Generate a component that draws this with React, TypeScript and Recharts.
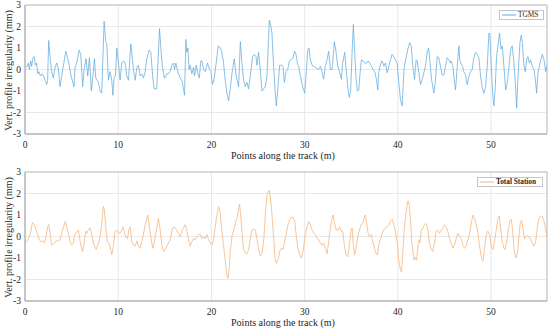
import React from 'react';
import { LineChart, Line, XAxis, YAxis, CartesianGrid, ReferenceArea, Legend } from 'recharts';

// ---- Data ----
const xTicks = [0, 10, 20, 30, 40, 50];
const yTicks = [-3, -2, -1, 0, 1, 2, 3];

const tgmsX = [
  0.18, 0.36, 0.47, 0.61, 0.72, 0.82, 1.0, 1.11, 1.25, 1.36, 1.5, 1.65, 1.83, 2.0, 2.15, 2.33, 2.43, 2.54, 2.69, 2.86,
  3.04, 3.22, 3.4, 3.58, 3.76, 4.05, 4.37, 4.65, 4.94, 5.26, 5.37, 5.55, 5.8, 5.98, 6.19, 6.34, 6.55, 6.73, 6.91, 7.12,
  7.34, 7.45, 7.59, 7.88, 8.06, 8.23, 8.49, 8.66, 8.77, 8.95, 9.13, 9.31, 9.42, 9.56, 9.7, 9.85, 10.03, 10.2, 10.38, 10.56,
  10.74, 10.92, 11.1, 11.35, 11.64, 11.82, 12.0, 12.17, 12.35, 12.53, 12.71, 12.89, 13.07, 13.32, 13.5, 13.71, 13.86, 14.14, 14.43, 14.61,
  14.75, 14.96, 15.22, 15.39, 15.57, 15.75, 15.93, 16.04, 16.18, 16.4, 16.65, 16.83, 17.0, 17.11, 17.26, 17.36, 17.47, 17.61, 17.72, 17.9,
  18.08, 18.19, 18.37, 18.55, 18.69, 18.87, 18.98, 19.15, 19.33, 19.58, 19.8, 19.94, 20.12, 20.3, 20.51, 20.73, 20.94, 21.12, 21.3, 21.48,
  21.66, 21.84, 22.02, 22.2, 22.45, 22.66, 22.92, 23.1, 23.27, 23.45, 23.63, 23.81, 23.99, 24.17, 24.42, 24.6, 24.78, 24.88, 25.06, 25.24,
  25.42, 25.6, 25.78, 25.96, 26.21, 26.39, 26.49, 26.67, 26.85, 26.96, 27.14, 27.32, 27.5, 27.68, 27.82, 28.0, 28.18, 28.36, 28.57, 28.75,
  28.93, 29.07, 29.25, 29.36, 29.54, 29.79, 30.0, 30.15, 30.33, 30.47, 30.61, 30.79, 30.97, 31.15, 31.33, 31.51, 31.69, 31.86, 32.04, 32.22,
  32.4, 32.58, 32.76, 32.94, 33.19, 33.37, 33.55, 33.73, 33.94, 34.08, 34.3, 34.48, 34.66, 34.8, 34.94, 35.09, 35.23, 35.37, 35.52, 35.66,
  35.81, 35.95, 36.09, 36.27, 36.45, 36.63, 36.81, 36.98, 37.16, 37.34, 37.52, 37.7, 37.85, 37.95, 38.13, 38.31, 38.49, 38.67, 38.85, 39.03,
  39.21, 39.38, 39.56, 39.74, 39.92, 40.1, 40.28, 40.46, 40.64, 40.71, 40.89, 41.07, 41.28, 41.43, 41.61, 41.79, 41.96, 42.07, 42.25, 42.43,
  42.61, 42.79, 42.96, 43.14, 43.29, 43.43, 43.61, 43.86, 44.04, 44.22, 44.39, 44.57, 44.75, 44.93, 45.11, 45.29, 45.47, 45.65, 45.72, 45.9,
  46.08, 46.19, 46.37, 46.55, 46.65, 46.8, 46.94, 47.08, 47.26, 47.44, 47.62, 47.8, 47.98, 48.15, 48.33, 48.51, 48.69, 48.87, 49.05, 49.23,
  49.41, 49.59, 49.77, 49.87, 50.02, 50.19, 50.3, 50.45, 50.59, 50.74, 50.91, 51.06, 51.2, 51.38, 51.56, 51.74, 51.92, 52.1, 52.27, 52.45,
  52.63, 52.74, 52.88, 53.1, 53.24, 53.35, 53.53, 53.67, 53.81, 53.96, 54.1, 54.24, 54.42, 54.6, 54.78, 54.89, 55.03, 55.25, 55.5, 55.68,
  55.86, 56.0,
];
const tgmsY = [
  0.1, 0.3, 0.0, 0.4, 0.15, 0.5, 0.6, 0.2, 0.3, -0.2, -0.1, -0.3, -0.2, -0.3, -0.5, -0.7, -0.5, 1.35, 0.6, -0.1,
  -0.4, 0.1, 0.3, 0.0, -0.8, 0.0, 0.85, 0.4, -0.3, -0.8, 0.1, 0.3, 0.9, 0.7, -0.8, 0.0, 0.5, -0.3, 0.55, -1.0,
  -0.1, 0.5, -0.4, -0.6, -1.0, -1.1, 2.25, 1.3, 1.2, -0.5, -0.1, -0.5, -1.2, -0.4, -0.3, 1.0, 0.3, -0.5, 0.3, 0.4,
  0.3, -0.3, -0.5, 1.2, 0.0, -0.5, 0.1, 0.2, -0.3, -0.2, -0.4, -0.1, 0.5, 0.9, 0.8, -0.4, -0.9, -0.9, 1.9, 0.8,
  0.1, -0.4, -0.2, -0.2, -0.1, 0.2, 0.3, 0.0, 0.3, -0.1, -0.4, -0.5, -0.9, -1.2, 1.4, 0.8, 1.0, 0.0, 0.2, -0.2,
  0.1, -0.3, 0.2, -0.2, -0.4, 0.4, 0.4, 0.0, -0.1, 0.3, 0.0, -0.1, -0.7, -0.4, 0.3, 1.1, 1.0, 0.8, 0.3, -0.5,
  -1.1, -1.45, -0.9, -0.2, 0.5, -0.3, -0.8, 1.3, 0.3, -0.5, -0.8, -0.6, -0.9, -0.3, 0.6, 0.7, 0.6, 0.2, 0.8, 0.0,
  -1.0, -0.9, -0.8, -0.3, 2.3, 2.0, 1.7, 0.15, -1.1, -1.7, -0.8, 0.2, 0.2, 0.15, -0.6, -0.1, 0.0, 0.4, 0.45, 0.55,
  0.85, 0.7, 0.25, 0.15, -0.3, -0.8, -1.1, -0.3, 0.9, 1.0, 0.45, 0.2, 0.15, 0.1, 0.05, 0.0, 0.15, -0.1, -0.45, 0.15,
  0.45, 0.85, 0.0, 0.0, 1.3, 0.8, 0.15, -0.1, -0.45, 0.3, 0.8, -0.15, -0.95, -1.3, -0.95, 0.8, 2.1, 0.8, -0.45, -1.0,
  -0.95, -0.15, 0.45, 0.4, 0.3, 0.3, 0.4, 0.3, 0.15, 0.0, -0.1, -0.45, -0.95, -0.15, 0.25, 0.4, 0.15, 0.3, -0.15, 0.15,
  0.45, 0.7, 0.6, 0.45, 0.3, -0.6, -1.4, -1.7, -0.15, 0.15, 0.55, 0.95, 1.25, 1.1, 0.15, -0.45, 0.45, 0.4, -0.15, -0.7,
  -0.45, -0.15, 0.15, 0.8, 1.0, 0.45, -0.45, -1.1, -0.45, 0.6, 0.55, 0.15, -0.25, -0.25, 0.15, 0.55, 0.45, 0.3, 0.4, 0.15,
  -0.6, -0.95, 0.15, 1.1, 0.4, 0.25, 0.15, -0.1, -0.25, -0.7, -0.3, -0.1, 0.0, 0.55, 0.8, 0.7, 0.55, -0.3, -0.85, -1.1,
  -0.8, 0.15, 1.7, 1.65, 0.15, -1.25, -1.7, -0.8, 0.6, 1.1, 1.7, 0.95, 1.1, 0.15, -0.95, -0.6, 0.15, 0.95, 1.1, 0.3,
  -0.8, -1.8, -0.45, 1.25, 1.6, 1.25, 0.15, -0.1, 0.45, 0.6, 0.3, 0.45, 0.15, 0.0, -0.6, -1.1, -0.15, 0.3, 0.7, 0.45,
  -0.1, 0.15,
];

const tsX = [
  0, 0.18, 0.47, 0.64, 0.79, 1.0, 1.18, 1.36, 1.54, 1.72, 1.9, 2.08, 2.26, 2.43, 2.54, 2.69, 2.86, 3.04, 3.22, 3.4,
  3.58, 3.76, 3.94, 4.12, 4.33, 4.48, 4.65, 4.83, 5.01, 5.19, 5.33, 5.48, 5.62, 5.73, 5.87, 6.01, 6.19, 6.34, 6.52, 6.62,
  6.8, 6.98, 7.09, 7.27, 7.45, 7.63, 7.77, 7.91, 8.06, 8.23, 8.41, 8.52, 8.7, 8.84, 8.99, 9.13, 9.31, 9.49, 9.67, 9.85,
  10.03, 10.2, 10.38, 10.49, 10.63, 10.81, 10.99, 11.13, 11.28, 11.46, 11.64, 11.82, 12.0, 12.17, 12.35, 12.53, 12.71, 12.89, 13.07, 13.18,
  13.35, 13.53, 13.71, 13.86, 14.04, 14.21, 14.32, 14.5, 14.68, 14.86, 15.04, 15.22, 15.39, 15.57, 15.75, 15.93, 16.11, 16.29, 16.47, 16.65,
  16.83, 17.0, 17.18, 17.36, 17.54, 17.72, 17.9, 18.08, 18.26, 18.44, 18.62, 18.8, 18.98, 19.15, 19.33, 19.51, 19.69, 19.87, 20.05, 20.23,
  20.41, 20.59, 20.77, 20.94, 21.12, 21.3, 21.48, 21.66, 21.77, 21.91, 22.02, 22.2, 22.38, 22.56, 22.74, 22.92, 23.02, 23.17, 23.31, 23.45,
  23.63, 23.81, 23.99, 24.17, 24.35, 24.53, 24.71, 24.88, 25.06, 25.24, 25.42, 25.6, 25.78, 25.96, 26.21, 26.39, 26.57, 26.71, 26.85, 26.96,
  27.14, 27.32, 27.5, 27.68, 27.85, 28.03, 28.21, 28.46, 28.75, 28.93, 29.11, 29.29, 29.47, 29.65, 29.83, 30.0, 30.25, 30.43, 30.61, 30.79,
  30.97, 31.15, 31.33, 31.51, 31.69, 31.86, 32.04, 32.22, 32.4, 32.58, 32.76, 32.94, 33.05, 33.22, 33.4, 33.58, 33.73, 33.91, 34.08, 34.26,
  34.44, 34.62, 34.8, 34.98, 35.09, 35.23, 35.37, 35.52, 35.7, 35.88, 36.05, 36.23, 36.38, 36.52, 36.66, 36.81, 36.95, 37.13, 37.31, 37.49,
  37.67, 37.81, 37.95, 38.13, 38.31, 38.49, 38.67, 38.85, 39.03, 39.21, 39.38, 39.56, 39.74, 39.92, 40.1, 40.28, 40.39, 40.5, 40.65, 40.75,
  40.89, 41.07, 41.21, 41.35, 41.5, 41.64, 41.75, 41.89, 42.0, 42.14, 42.29, 42.36, 42.5, 42.68, 42.86, 43.04, 43.22, 43.39, 43.57, 43.75,
  43.93, 44.11, 44.29, 44.47, 44.65, 44.83, 45.01, 45.18, 45.36, 45.54, 45.72, 45.9, 46.08, 46.26, 46.44, 46.62, 46.8, 46.98, 47.15, 47.33,
  47.51, 47.69, 47.87, 48.05, 48.23, 48.41, 48.59, 48.77, 48.95, 49.13, 49.3, 49.48, 49.66, 49.84, 50.02, 50.19, 50.37, 50.55, 50.73, 50.88,
  51.02, 51.2, 51.38, 51.52, 51.67, 51.85, 52.02, 52.17, 52.31, 52.45, 52.63, 52.74, 52.88, 53.03, 53.17, 53.31, 53.46, 53.6, 53.74, 53.88,
  54.06, 54.24, 54.42, 54.6, 54.78, 54.96, 55.14, 55.32, 55.5, 55.68, 55.86, 56.0,
];
const tsY = [
  -0.3, -0.25, 0.0, 0.25, 0.65, 0.55, 0.3, 0.1, -0.15, -0.25, -0.2, -0.3, 0.0, 0.45, 0.55, 0.15, -0.4, -0.35, -0.25, -0.2,
  -0.2, -0.15, 0.15, 0.45, 0.7, 0.45, 0.15, -0.25, -0.4, -0.3, 0.1, 0.15, 0.25, 0.3, -0.1, -0.45, -0.7, -0.3, 0.25, 0.15,
  0.3, 0.4, 0.25, -0.15, -0.45, -0.6, -0.45, -0.3, 0.0, 0.55, 1.4, 1.25, 0.25, -0.25, -0.3, -0.45, -0.85, -0.4, 0.25, 0.3,
  0.15, 0.15, 0.3, 0.45, 0.25, 0.0, -0.1, 0.3, 0.45, -0.25, -0.4, -0.45, -0.2, -0.45, -0.55, -0.25, 0.1, 0.55, 0.85, 1.0,
  0.45, -0.1, -0.55, -0.3, 0.15, 0.6, 0.85, 0.3, -0.4, -0.7, -0.6, -0.45, -0.3, -0.15, 0.25, 0.45, 0.4, 0.25, 0.15, 0.0,
  0.25, 0.4, 0.55, 0.3, -0.15, -0.45, -0.25, -0.1, -0.15, 0.0, 0.1, 0.1, -0.1, 0.0, -0.1, 0.1, -0.15, -0.3, -0.4, -0.15,
  0.45, 1.0, 1.4, 1.1, 0.25, -0.4, -1.15, -1.8, -1.95, -1.5, -0.7, 0.0, 0.25, 0.6, 0.85, 1.3, 1.5, 0.85, 0.0, -0.6,
  -0.75, -0.8, -0.6, -0.1, 0.3, 0.35, 0.3, -0.1, -0.6, -0.9, -0.8, -0.25, 1.0, 1.95, 2.15, 1.6, 0.6, -0.25, -1.1, -1.25,
  -1.1, -0.7, -0.55, -0.6, -0.25, 0.15, 0.55, 0.85, 0.9, 0.7, 0.0, -0.6, -0.85, -1.0, -0.7, -0.1, 0.45, 0.7, 0.55, 0.3,
  0.15, 0.1, -0.1, -0.15, -0.3, -0.4, -0.3, -0.55, -0.8, -0.25, 0.45, 0.85, 1.0, 0.6, 0.3, 0.3, 0.45, 0.25, 0.25, -0.4,
  -0.85, -0.95, -0.4, 0.3, 0.4, -0.4, -0.85, -0.55, 0.0, 0.3, 0.55, 0.6, 0.85, 1.0, 0.6, 0.15, 0.0, 0.1, -0.25, -0.55,
  -0.8, -0.85, -0.4, -0.15, 0.15, 0.3, 0.4, 0.45, 0.55, 0.7, 0.8, 0.55, 0.25, -0.25, -1.1, -1.55, -1.65, -1.0, 0.1, 0.6,
  1.15, 1.65, 1.5, 0.8, -0.25, -0.8, -1.1, -0.95, -1.1, -0.55, -0.15, -0.3, 0.25, 0.4, 0.55, 0.6, 0.3, -0.3, -0.6, -0.7,
  -0.3, 0.25, 0.3, 0.15, 0.3, 0.4, 0.55, 0.45, 0.25, -0.1, -0.3, -0.55, -0.4, -0.1, 0.15, 0.0, -0.1, -0.4, -0.55, -0.45,
  -0.15, 0.15, 0.6, 1.0, 0.85, 0.55, 0.15, -0.45, -0.95, -1.15, -0.55, 0.1, 0.25, 0.1, -0.45, -0.6, -0.25, 0.3, 0.85, 0.95,
  0.45, -0.25, -0.55, -0.6, -0.25, 0.3, 0.75, 0.8, 0.3, -0.55, -0.95, -1.0, -0.55, 0.25, 0.7, 0.75, 0.25, -0.1, 0.0, 0.05,
  0.0, -0.15, -0.3, -0.45, -0.25, 0.4, 0.85, 0.95, 0.95, 0.7, 0.3, 0.0,
];

const tgmsData = tgmsX.map((x, i) => ({ x, y: tgmsY[i] }));
const tsData = tsX.map((x, i) => ({ x, y: tsY[i] }));

const FONT = '"Liberation Serif", "Times New Roman", serif';
const TEXT = '#262626';
const GRID = '#e8e8e8';
const BOX = '#b3b3b3';

type PanelProps = {
  data: { x: number; y: number }[];
  color: string;
  name: string;
  height: number;
  marginTop: number;
  xAxisHeight: number;
  legendLeft: number;
  legendTop: number;
  legendWidth: number;
  bold?: boolean;
  strokeWidth: number;
};

function Panel(p: PanelProps) {
  return (
    <LineChart
      width={550}
      height={p.height}
      data={p.data}
      margin={{ top: p.marginTop, right: 3, bottom: 0, left: 0 }}
      style={{ fontFamily: FONT }}
    >
      <CartesianGrid stroke={GRID} strokeWidth={1} horizontalValues={[-2, -1, 0, 1, 2]} verticalValues={[10, 20, 30, 40, 50]} />
      <XAxis
        dataKey="x"
        type="number"
        domain={[0, 56]}
        ticks={xTicks}
        allowDataOverflow
        height={p.xAxisHeight}
        stroke={BOX}
        tickLine={false}
        tickSize={5}
        tickMargin={2}
        tick={{ fill: TEXT, fontSize: 9.5, fontFamily: FONT }}
        label={{
          content: (props: any) => {
            const vb = props.viewBox || { x: 25, y: 134, width: 522, height: 31 };
            return (
              <text
                x={vb.x + vb.width / 2 - 3}
                y={vb.y + 21}
                textAnchor="middle"
                dominantBaseline="central"
                fill={TEXT}
                fontSize={10}
                fontFamily={FONT}
              >
                Points along the track (m)
              </text>
            );
          },
        }}
      />
      <YAxis
        type="number"
        domain={[-3, 3]}
        ticks={yTicks}
        width={25}
        stroke={BOX}
        tickLine={false}
        tickSize={3}
        tickMargin={1}
        tick={{ fill: TEXT, fontSize: 9.5, fontFamily: FONT }}
        label={{
          content: (props: any) => {
            const vb = props.viewBox || { x: 0, y: 5, width: 25, height: 129 };
            const cy = vb.y + vb.height / 2 + 1;
            return (
              <text
                transform={`translate(8, ${cy}) rotate(-90)`}
                textAnchor="middle"
                dominantBaseline="central"
                fill={TEXT}
                fontSize={10}
                fontFamily={FONT}
              >
                Vert. profile irregularity (mm)
              </text>
            );
          },
        }}
      />
      <ReferenceArea x1={0} x2={56} y1={-3} y2={3} fill="none" stroke={BOX} strokeWidth={1} ifOverflow="visible" />
      <Line
        type="linear"
        dataKey="y"
        name={p.name}
        stroke={p.color}
        strokeWidth={p.strokeWidth}
        dot={false}
        isAnimationActive={false}
      />
      <Legend
        layout="vertical"
        align="center"
        verticalAlign="middle"
        wrapperStyle={{ position: 'absolute', left: p.legendLeft, top: p.legendTop, width: p.legendWidth, height: 10, margin: 0, padding: 0 }}
        content={() => (
          <div
            style={{
              boxSizing: 'border-box',
              width: p.legendWidth,
              height: 10,
              border: '1px solid #c4c4c4',
              background: '#fff',
              display: 'flex',
              alignItems: 'center',
              fontFamily: FONT,
              fontSize: 7.3,
              fontWeight: p.bold ? 'bold' : 'normal',
              color: TEXT,
              lineHeight: '8px',
            }}
          >
            <svg width={17} height={8} style={{ display: 'block', flex: 'none' }}>
              <line x1={2} y1={4} x2={16} y2={4} stroke={p.color} strokeWidth={1} />
            </svg>
            <span style={{ marginLeft: 1, whiteSpace: 'nowrap' }}>{p.name}</span>
          </div>
        )}
      />
    </LineChart>
  );
}

export default function App() {
  return (
    <div style={{ position: 'absolute', left: 0, top: 0, width: 550, height: 329, background: '#fff' }}>
      <div style={{ position: 'absolute', left: 0, top: 0 }}>
        <Panel
          data={tgmsData}
          color="#62abde"
          name="TGMS"
          height={165}
          marginTop={5}
          xAxisHeight={31}
          legendLeft={499}
          legendTop={10}
          legendWidth={45}
          strokeWidth={0.75}
        />
      </div>
      <div style={{ position: 'absolute', left: 0, top: 165 }}>
        <Panel
          data={tsData}
          color="#f5ba86"
          name="Total Station"
          height={164}
          marginTop={7}
          xAxisHeight={28}
          legendLeft={477}
          legendTop={12}
          legendWidth={66}
          bold
          strokeWidth={0.85}
        />
      </div>
    </div>
  );
}
